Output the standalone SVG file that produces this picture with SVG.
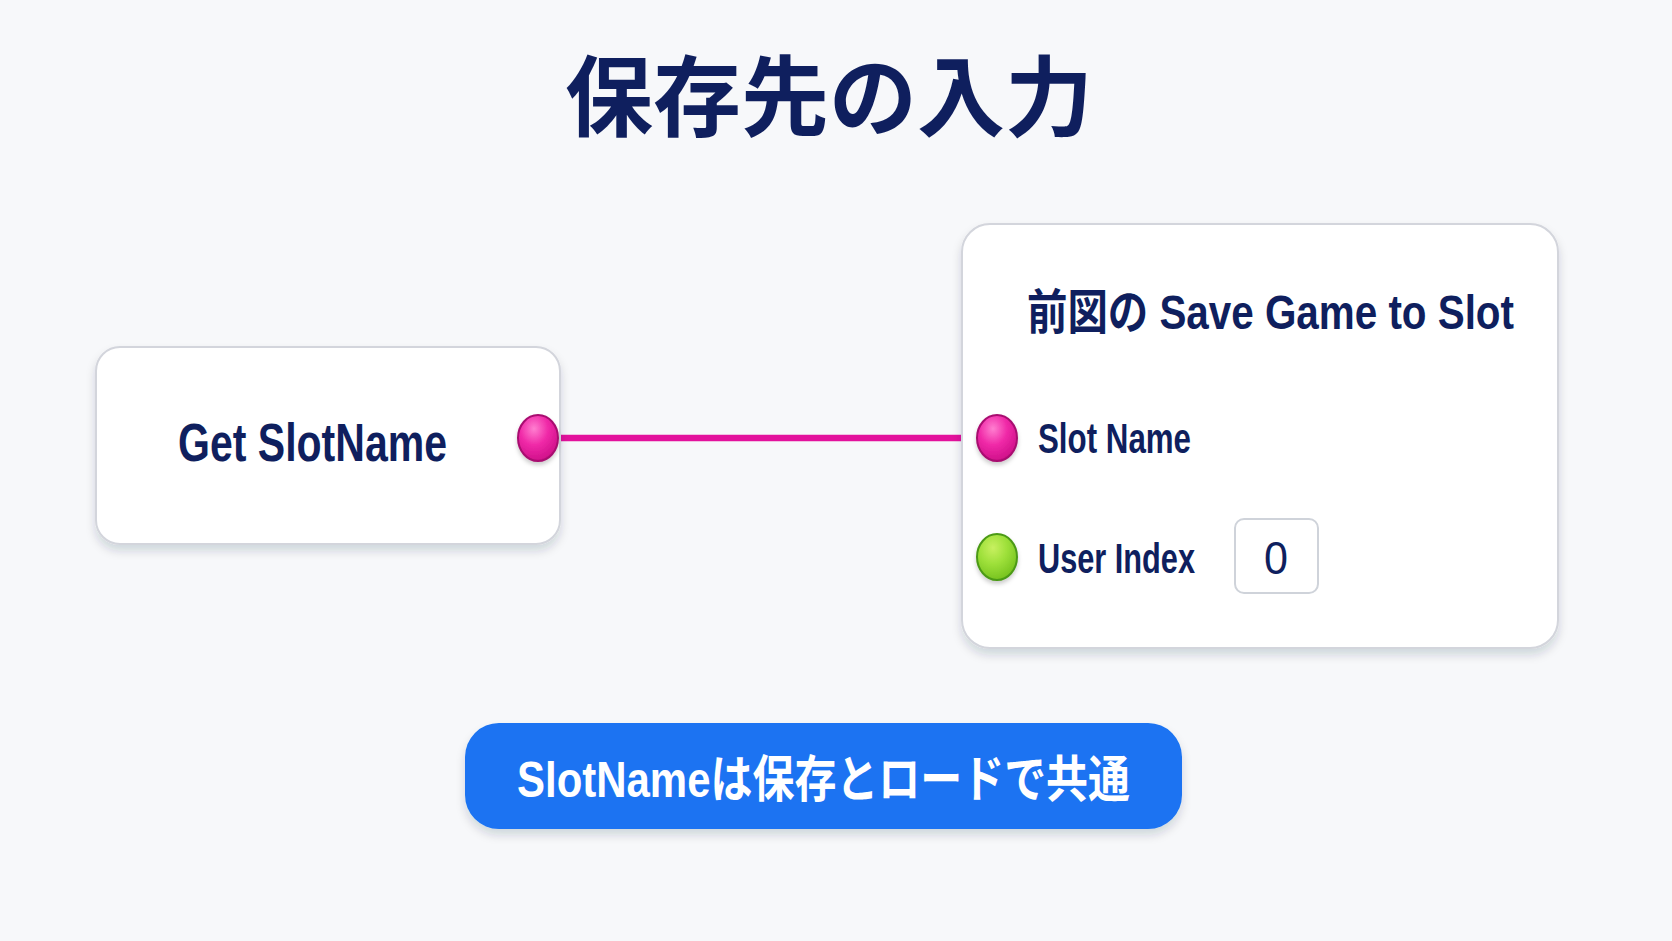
<svg xmlns="http://www.w3.org/2000/svg" width="1672" height="941" viewBox="0 0 1672 941">
<defs>
<style>
.lat{font-family:"Liberation Sans","Noto Sans CJK JP",sans-serif;font-weight:700;fill:#0f1f5e}
.cjk{font-family:"Noto Sans CJK JP","Liberation Sans",sans-serif;font-weight:700;fill:#0f1f5e}
.node{fill:#ffffff;stroke:#d3d5dc;stroke-width:2}
</style>
<filter id="sh" x="-10%" y="-10%" width="120%" height="130%">
<feDropShadow dx="0" dy="6" stdDeviation="5" flood-color="#1a2440" flood-opacity="0.16"/>
</filter>
<filter id="psh" x="-50%" y="-50%" width="200%" height="200%">
<feDropShadow dx="0" dy="3" stdDeviation="2" flood-color="#000" flood-opacity="0.2"/>
</filter>
<radialGradient id="pink" cx="40%" cy="30%" r="70%">
<stop offset="0" stop-color="#ff7fd0"/>
<stop offset="0.5" stop-color="#f02aa8"/>
<stop offset="1" stop-color="#d0108a"/>
</radialGradient>
<radialGradient id="green" cx="40%" cy="30%" r="70%">
<stop offset="0" stop-color="#c8f060"/>
<stop offset="0.5" stop-color="#9ee03a"/>
<stop offset="1" stop-color="#78c420"/>
</radialGradient>
</defs>
<rect x="0" y="0" width="1672" height="941" fill="#f7f8fa"/>

<g id="title">
<text class="cjk" x="829" y="129" font-size="88" text-anchor="middle" fill="#0f2167">保存先の入力</text>
</g>

<g id="connectors">
<line x1="538" y1="438" x2="997" y2="438" stroke="#e3119c" stroke-width="6.5"/>
</g>

<g id="node-get-slotname">
<rect class="node" x="96" y="347" width="464" height="197" rx="24" filter="url(#sh)"/>
<text class="lat" x="178" y="461" font-size="54" textLength="269" lengthAdjust="spacingAndGlyphs">Get SlotName</text>
<ellipse cx="538" cy="438" rx="20" ry="23" fill="url(#pink)" stroke="#a80c70" stroke-width="2" filter="url(#psh)"/>
</g>

<g id="node-save-game">
<rect class="node" x="962" y="224" width="596" height="424" rx="28" filter="url(#sh)"/>
<text class="lat" x="1027" y="329" font-size="48" textLength="487" lengthAdjust="spacingAndGlyphs">前図の Save Game to Slot</text>
<ellipse cx="997" cy="438" rx="20" ry="23" fill="url(#pink)" stroke="#a80c70" stroke-width="2" filter="url(#psh)"/>
<text class="lat" x="1038" y="453" font-size="42" textLength="153" lengthAdjust="spacingAndGlyphs">Slot Name</text>
<ellipse cx="997" cy="557" rx="20" ry="23" fill="url(#green)" stroke="#4c9a16" stroke-width="2" filter="url(#psh)"/>
<text class="lat" x="1038" y="573" font-size="42" textLength="157" lengthAdjust="spacingAndGlyphs">User Index</text>
<rect x="1235" y="519" width="83" height="74" rx="9" fill="#ffffff" stroke="#cfd3da" stroke-width="2"/>
<text x="1264" y="574" font-size="46" font-family="Liberation Sans, sans-serif" fill="#0f1f5e" textLength="24" lengthAdjust="spacingAndGlyphs">0</text>
</g>

<g id="note">
<rect x="465" y="723" width="717" height="106" rx="34" fill="#1a73f2" filter="url(#sh)"/>
<text x="517" y="797" font-size="50" font-weight="700" font-family="Liberation Sans, Noto Sans CJK JP, sans-serif" fill="#ffffff" textLength="613" lengthAdjust="spacingAndGlyphs">SlotNameは保存とロードで共通</text>
</g>
</svg>
